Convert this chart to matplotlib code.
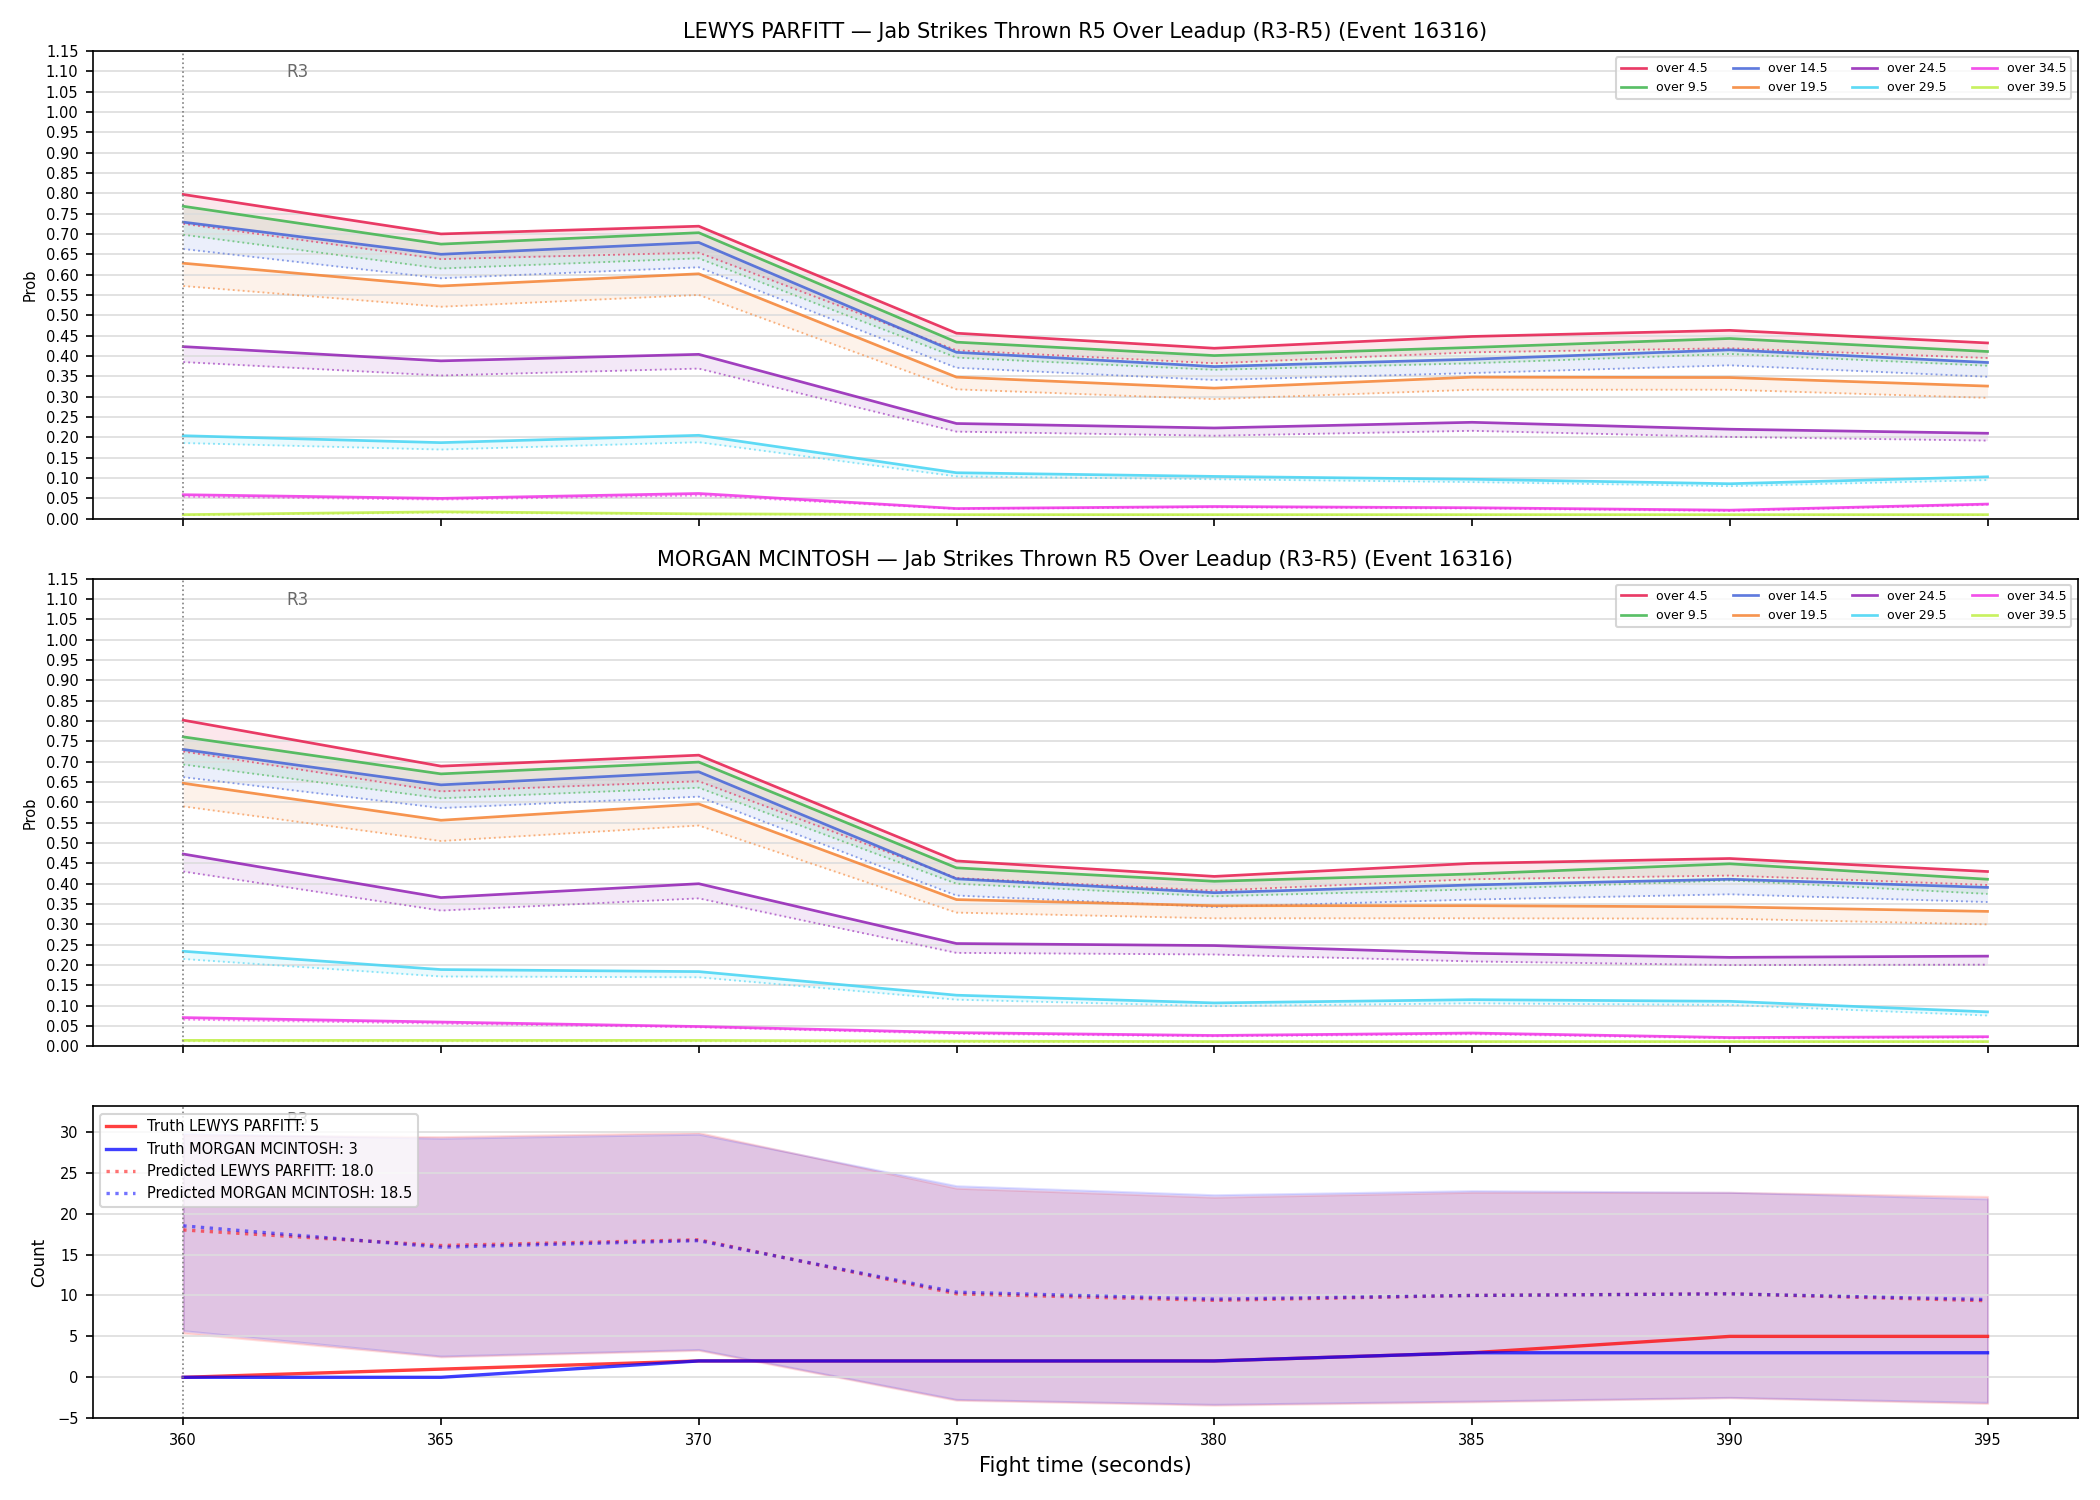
import numpy as np
import matplotlib
matplotlib.use('Agg')
from matplotlib import pyplot as plt

# ---- data ----
times = [360, 365, 370, 375, 380, 385, 390, 395]
lines = ['over 4.5', 'over 9.5', 'over 14.5', 'over 19.5',
         'over 24.5', 'over 29.5', 'over 34.5', 'over 39.5']
colors = ['#e6194b', '#3cb44b', '#4363d8', '#f58231',
          '#911eb4', '#42d4f4', '#f032e6', '#bfef45']

lewys_prob = [
    [0.797, 0.700, 0.719, 0.456, 0.419, 0.448, 0.463, 0.432],
    [0.768, 0.675, 0.703, 0.434, 0.401, 0.421, 0.443, 0.411],
    [0.729, 0.650, 0.679, 0.409, 0.374, 0.392, 0.415, 0.384],
    [0.628, 0.572, 0.602, 0.348, 0.321, 0.348, 0.347, 0.326],
    [0.423, 0.388, 0.404, 0.234, 0.223, 0.237, 0.220, 0.210],
    [0.204, 0.187, 0.205, 0.113, 0.104, 0.097, 0.086, 0.103],
    [0.059, 0.050, 0.062, 0.025, 0.030, 0.027, 0.021, 0.036],
    [0.010, 0.017, 0.012, 0.010, 0.010, 0.010, 0.010, 0.010],
]
lewys_prob_low = [
    [0.725, 0.638, 0.654, 0.414, 0.382, 0.409, 0.419, 0.395],
    [0.698, 0.615, 0.640, 0.396, 0.366, 0.382, 0.405, 0.376],
    [0.663, 0.591, 0.618, 0.371, 0.341, 0.358, 0.377, 0.349],
    [0.572, 0.521, 0.550, 0.318, 0.294, 0.317, 0.317, 0.297],
    [0.385, 0.352, 0.369, 0.214, 0.204, 0.216, 0.201, 0.192],
    [0.186, 0.170, 0.188, 0.104, 0.097, 0.090, 0.080, 0.095],
    [0.054, 0.047, 0.057, 0.024, 0.028, 0.025, 0.019, 0.034],
    [0.009, 0.015, 0.011, 0.009, 0.009, 0.009, 0.009, 0.009],
]
morgan_prob = [
    [0.802, 0.689, 0.716, 0.456, 0.418, 0.450, 0.462, 0.430],
    [0.761, 0.670, 0.699, 0.439, 0.406, 0.424, 0.449, 0.411],
    [0.730, 0.643, 0.675, 0.412, 0.378, 0.397, 0.411, 0.391],
    [0.647, 0.556, 0.596, 0.361, 0.346, 0.346, 0.343, 0.332],
    [0.473, 0.366, 0.400, 0.253, 0.248, 0.229, 0.219, 0.222],
    [0.234, 0.189, 0.184, 0.126, 0.107, 0.115, 0.111, 0.085],
    [0.071, 0.060, 0.049, 0.034, 0.027, 0.033, 0.022, 0.024],
    [0.015, 0.015, 0.015, 0.013, 0.012, 0.012, 0.012, 0.012],
]
morgan_prob_low = [
    [0.725, 0.627, 0.652, 0.414, 0.383, 0.411, 0.420, 0.397],
    [0.693, 0.610, 0.636, 0.400, 0.369, 0.386, 0.408, 0.375],
    [0.662, 0.586, 0.614, 0.371, 0.343, 0.361, 0.374, 0.355],
    [0.590, 0.505, 0.543, 0.329, 0.315, 0.315, 0.314, 0.300],
    [0.430, 0.334, 0.364, 0.230, 0.226, 0.209, 0.200, 0.201],
    [0.215, 0.172, 0.170, 0.115, 0.099, 0.106, 0.102, 0.076],
    [0.066, 0.056, 0.047, 0.031, 0.025, 0.030, 0.020, 0.022],
    [0.013, 0.013, 0.013, 0.011, 0.011, 0.011, 0.011, 0.011],
]

truth_lewys = [0, 1, 2, 2, 2, 3, 5, 5]
truth_morgan = [0, 0, 2, 2, 2, 3, 3, 3]
pred_lewys = [18.0, 16.1, 16.8, 10.2, 9.4, 10.0, 10.2, 9.35]
pred_morgan = [18.5, 15.9, 16.7, 10.4, 9.55, 10.0, 10.2, 9.5]
upper_lewys = [29.6, 29.4, 29.9, 23.1, 22.0, 22.6, 22.6, 22.1]
upper_morgan = [29.8, 29.2, 29.7, 23.4, 22.3, 22.8, 22.6, 21.8]
lower_lewys = [5.4, 2.5, 3.3, -2.8, -3.4, -3.0, -2.5, -3.2]
lower_morgan = [5.7, 2.6, 3.4, -2.7, -3.3, -2.9, -2.45, -3.06]

fighter_a = 'LEWYS PARFITT'
fighter_b = 'MORGAN MCINTOSH'
title_tail = ' — Jab Strikes Thrown R5 Over Leadup (R3-R5) (Event 16316)'

# ---- figure ----
fig, axes = plt.subplots(3, 1, figsize=(14, 10), dpi=150, sharex=True,
                         gridspec_kw={'height_ratios': [3, 3, 2]})
fig.subplots_adjust(left=0.0443, right=0.9894, top=0.9661, bottom=0.0545, hspace=0.144)

x = np.array(times)

def round_marker(ax):
    # start of R3 window
    ax.axvline(360, color='gray', ls=':', lw=0.8)
    ax.text(362, 0.955, 'R3', color='dimgray', fontsize=8, ha='left', va='center',
            transform=ax.get_xaxis_transform())

for ax, name, hi, lo in [(axes[0], fighter_a, lewys_prob, lewys_prob_low),
                         (axes[1], fighter_b, morgan_prob, morgan_prob_low)]:
    for lab, c, y1, y2 in zip(lines, colors, hi, lo):
        ax.plot(x, y1, color=c, lw=1.3, alpha=0.85, label=lab)
        ax.plot(x, y2, color=c, lw=0.9, ls=':', alpha=0.6)
        ax.fill_between(x, y1, y2, color=c, alpha=0.1, lw=0)
    ax.set_ylim(0, 1.15)
    ax.set_yticks(np.arange(0, 1.151, 0.05))
    ax.grid(axis='y', color='#dddddd', lw=0.8)
    round_marker(ax)
    ax.set_ylabel('Prob', fontsize=7)
    ax.set_title(name + title_tail, fontsize=10)
    ax.tick_params(labelsize=7)
    ax.legend(loc='upper right', ncol=4, fontsize=6)

# ---- count panel ----
ax = axes[2]
ax.fill_between(x, lower_lewys, upper_lewys, color='red', alpha=0.12)
ax.fill_between(x, lower_morgan, upper_morgan, color='blue', alpha=0.12)
ax.plot(x, truth_lewys, color='red', lw=1.6, alpha=0.75,
        label=f'Truth {fighter_a}: {truth_lewys[-1]}')
ax.plot(x, truth_morgan, color='blue', lw=1.6, alpha=0.75,
        label=f'Truth {fighter_b}: {truth_morgan[-1]}')
ax.plot(x, pred_lewys, color='red', lw=1.6, ls=':', alpha=0.55,
        label=f'Predicted {fighter_a}: {pred_lewys[0]:.1f}')
ax.plot(x, pred_morgan, color='blue', lw=1.6, ls=':', alpha=0.55,
        label=f'Predicted {fighter_b}: {pred_morgan[0]:.1f}')
round_marker(ax)
ax.set_ylim(-5, 33.1)
ax.set_yticks(np.arange(-5, 31, 5))
ax.grid(axis='y', color='#dddddd', lw=0.8)
ax.set_ylabel('Count', fontsize=8)
ax.set_xlabel('Fight time (seconds)', fontsize=10)
ax.set_xticks(times)
ax.tick_params(labelsize=7)
ax.legend(loc='upper left', fontsize=7)

fig.savefig('out.png', dpi=150)
